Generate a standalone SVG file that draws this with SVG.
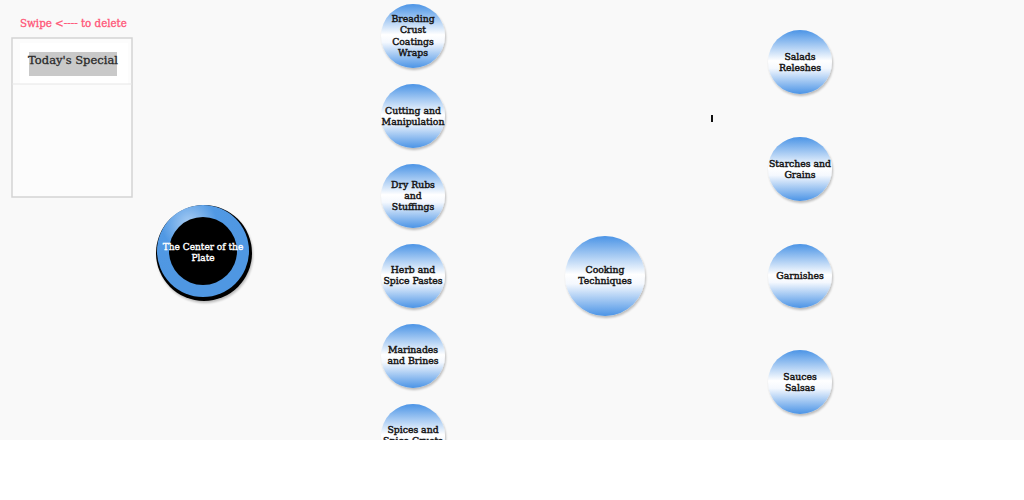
<svg xmlns="http://www.w3.org/2000/svg" width="1024" height="500" viewBox="0 0 1024 500">
<style>
.lbl{font-family:"DejaVu Serif","Liberation Serif",serif;font-size:9.3px;fill:#151515;stroke:#151515;stroke-width:0.45;text-anchor:middle}
.node{fill:url(#bub);filter:url(#sh)}
</style>
<defs>
<linearGradient id="bub" x1="0" y1="0" x2="0" y2="1">
<stop offset="0" stop-color="#4b94e6"/>
<stop offset="0.48" stop-color="#ffffff"/>
<stop offset="0.6" stop-color="#f4f8fe"/>
<stop offset="1" stop-color="#4b94e6"/>
</linearGradient>
<radialGradient id="ring" cx="0.35" cy="0.2" r="0.6">
<stop offset="0" stop-color="#a9cdf3"/>
<stop offset="0.5" stop-color="#5199e4"/>
<stop offset="1" stop-color="#4f97e2"/>
</radialGradient>
<filter id="sh" x="-20%" y="-20%" width="150%" height="150%">
<feGaussianBlur in="SourceAlpha" stdDeviation="1.2"/>
<feOffset dx="1" dy="2" result="b"/>
<feComponentTransfer><feFuncA type="linear" slope="0.25"/></feComponentTransfer>
<feMerge><feMergeNode/><feMergeNode in="SourceGraphic"/></feMerge>
</filter>
<clipPath id="stage"><rect x="0" y="0" width="1024" height="440"/></clipPath>
</defs>
<rect x="0" y="0" width="1024" height="500" fill="#ffffff"/>
<rect x="0" y="0" width="1024" height="440" fill="#f9f9f9"/>
<g id="connectors"></g>
<g id="panel">
<text x="20" y="27" font-family="'DejaVu Serif','Liberation Serif',serif" font-size="10.3" fill="#ff5577" stroke="#ff5577" stroke-width="0.3">Swipe &lt;---- to delete</text>
<rect x="12" y="38" width="120" height="159" fill="#fcfcfc" stroke="#d4d4d4" stroke-width="1.5"/>
<rect x="20" y="43" width="108" height="41" fill="#ffffff"/>
<line x1="12" y1="84" x2="132" y2="84" stroke="#e6e6e6" stroke-width="1"/>
<rect x="29" y="52" width="88" height="24" fill="#c9c9c9"/>
<text x="73" y="64" font-family="'DejaVu Serif','Liberation Serif',serif" font-size="11.5" fill="#2a2a2a" stroke="#2a2a2a" stroke-width="0.3" text-anchor="middle">Today's Special</text>
</g>
<g id="center-plate">
<circle cx="204" cy="253" r="48" fill="#000" filter="url(#sh)"/>
<circle cx="203" cy="251" r="46" fill="url(#ring)"/>
<circle cx="203" cy="251" r="34" fill="#000"/>
<text x="203" y="250" font-family="'DejaVu Serif','Liberation Serif',serif" font-size="9" fill="#fff" stroke="#fff" stroke-width="0.35" text-anchor="middle">The Center of the</text>
<text x="203" y="261" font-family="'DejaVu Serif','Liberation Serif',serif" font-size="9" fill="#fff" stroke="#fff" stroke-width="0.35" text-anchor="middle">Plate</text>
</g>
<g clip-path="url(#stage)">
<g id="n-breading"><circle class="node" cx="413" cy="36" r="32"/>
<text class="lbl" x="413" y="22">Breading</text><text class="lbl" x="413" y="33">Crust</text><text class="lbl" x="413" y="45">Coatings</text><text class="lbl" x="413" y="56">Wraps</text></g>
<g id="n-cutting"><circle class="node" cx="413" cy="116" r="32"/>
<text class="lbl" x="413" y="114">Cutting and</text><text class="lbl" x="413" y="125">Manipulation</text></g>
<g id="n-dryrubs"><circle class="node" cx="413" cy="196" r="32"/>
<text class="lbl" x="413" y="188">Dry Rubs</text><text class="lbl" x="413" y="199">and</text><text class="lbl" x="413" y="210">Stuffings</text></g>
<g id="n-herb"><circle class="node" cx="413" cy="276" r="32"/>
<text class="lbl" x="413" y="273">Herb and</text><text class="lbl" x="413" y="284">Spice Pastes</text></g>
<g id="n-marinades"><circle class="node" cx="413" cy="356" r="32"/>
<text class="lbl" x="413" y="353">Marinades</text><text class="lbl" x="413" y="364">and Brines</text></g>
<g id="n-spices"><circle class="node" cx="413" cy="436" r="32"/>
<text class="lbl" x="413" y="433">Spices and</text><text class="lbl" x="413" y="444">Spice Crusts</text></g>
</g>
<g id="n-cooking"><circle class="node" cx="605" cy="276" r="40"/>
<text class="lbl" x="605" y="273">Cooking</text><text class="lbl" x="605" y="284">Techniques</text></g>
<g id="n-salads"><circle class="node" cx="800" cy="62" r="32"/>
<text class="lbl" x="800" y="60">Salads</text><text class="lbl" x="800" y="71">Releshes</text></g>
<g id="n-starches"><circle class="node" cx="800" cy="169" r="32"/>
<text class="lbl" x="800" y="167">Starches and</text><text class="lbl" x="800" y="178">Grains</text></g>
<g id="n-garnishes"><circle class="node" cx="800" cy="276" r="32"/>
<text class="lbl" x="800" y="279">Garnishes</text></g>
<g id="n-sauces"><circle class="node" cx="800" cy="382" r="32"/>
<text class="lbl" x="800" y="380">Sauces</text><text class="lbl" x="800" y="391">Salsas</text></g>
<rect x="711" y="115" width="2" height="7" fill="#111"/>
</svg>
